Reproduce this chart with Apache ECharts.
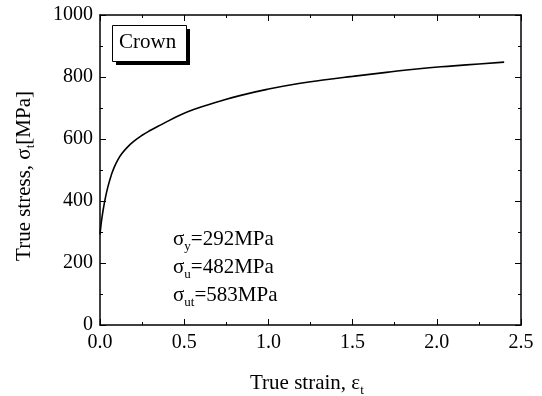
<!DOCTYPE html>
<html>
<head>
<meta charset="utf-8">
<script src="https://cdn.jsdelivr.net/npm/echarts@6/dist/echarts.min.js"></script>
<style>html,body{margin:0;padding:0;background:#fff}#c{width:542px;height:396px}</style>
</head>
<body>
<div id="c"></div>
<script>
const strain = [0, 0.005, 0.01, 0.02, 0.035, 0.05, 0.065, 0.08, 0.105, 0.13, 0.16, 0.2, 0.25, 0.3, 0.37, 0.47, 0.56, 0.7, 0.83, 1.0, 1.18, 1.35, 1.5, 1.7, 1.88, 2.1, 2.25, 2.4];
const stress = [292, 318, 340, 375, 418, 452, 480, 503, 532, 553, 572, 592, 612, 628, 648, 676, 696, 720, 740, 761, 779, 792, 802, 815, 826, 836, 842, 848];
const xTicks = [0, 0.5, 1.0, 1.5, 2.0, 2.5];
const yTicks = [0, 200, 400, 600, 800, 1000];
const materialLabel = 'Crown';
const props = [['y', '292'], ['u', '482'], ['ut', '583']];

const FONT = '"Liberation Serif", "Times New Roman", serif';
const chart = echarts.init(document.getElementById('c'));
const axisCommon = {
  axisLine: {show: true, onZero: false, lineStyle: {color: '#000', width: 1.5}},
  axisTick: {show: true, inside: true, length: 6, lineStyle: {color: '#000', width: 1}},
  minorTick: {show: true, splitNumber: 2, length: 3, lineStyle: {color: '#000', width: 1}},
  splitLine: {show: false}
};
const richBase = {
  n: {fontFamily: FONT, fontSize: 21, color: '#000', lineHeight: 22},
  sub: {fontFamily: FONT, fontSize: 13, color: '#000', lineHeight: 22, padding: [14, 0, 0, 0]}
};
chart.setOption({
  animation: false,
  backgroundColor: '#fff',
  grid: {left: 100, right: 21, top: 15, bottom: 71, containLabel: false},
  xAxis: [
    Object.assign({type: 'value', min: 0, max: 2.5, interval: 0.5, position: 'bottom',
      axisLabel: {fontFamily: FONT, fontSize: 20, color: '#000', margin: 8,
        formatter: v => xTicks.includes(v) ? v.toFixed(1) : ''}}, axisCommon),
    Object.assign({type: 'value', min: 0, max: 2.5, interval: 0.5, position: 'top',
      axisLabel: {show: false}}, axisCommon)
  ],
  yAxis: [
    Object.assign({type: 'value', min: 0, max: 1000, interval: 200, position: 'left',
      axisLabel: {fontFamily: FONT, fontSize: 20, color: '#000', margin: 7,
        formatter: v => yTicks.includes(v) ? String(v) : ''}}, axisCommon),
    Object.assign({type: 'value', min: 0, max: 1000, interval: 200, position: 'right',
      axisLabel: {show: false}}, axisCommon)
  ],
  series: [{
    type: 'line', xAxisIndex: 0, yAxisIndex: 0, smooth: 0.5, showSymbol: false,
    lineStyle: {color: '#000', width: 1.6},
    data: strain.map((x, i) => [x, stress[i]])
  }],
  graphic: [
    {type: 'rect', left: 116, top: 29, shape: {width: 74, height: 36}, style: {fill: '#000'}, z: 10},
    {type: 'rect', left: 112, top: 25, shape: {width: 74, height: 36}, style: {fill: '#fff', stroke: '#000', lineWidth: 1}, z: 11},
    {type: 'text', left: 119, top: 32, style: {text: materialLabel, font: '21px ' + FONT, fill: '#000'}, z: 12},
    ...props.map((p, i) => ({
      type: 'text', left: 173, top: 226 + i * 28, z: 12,
      style: {text: '{n|σ}{sub|' + p[0] + '}{n|=' + p[1] + 'MPa}', rich: richBase}
    })),
    {type: 'text', left: 250, top: 370, z: 12,
      style: {text: '{n|True strain, ε}{sub|t}', rich: richBase}},
    {type: 'text', x: 24, y: 176, rotation: Math.PI / 2, z: 12,
      style: {text: '{n|True stress, σ}{sub|t}{n|[MPa]}', rich: richBase, align: 'center', verticalAlign: 'middle'}}
  ]
});
</script>
</body>
</html>
